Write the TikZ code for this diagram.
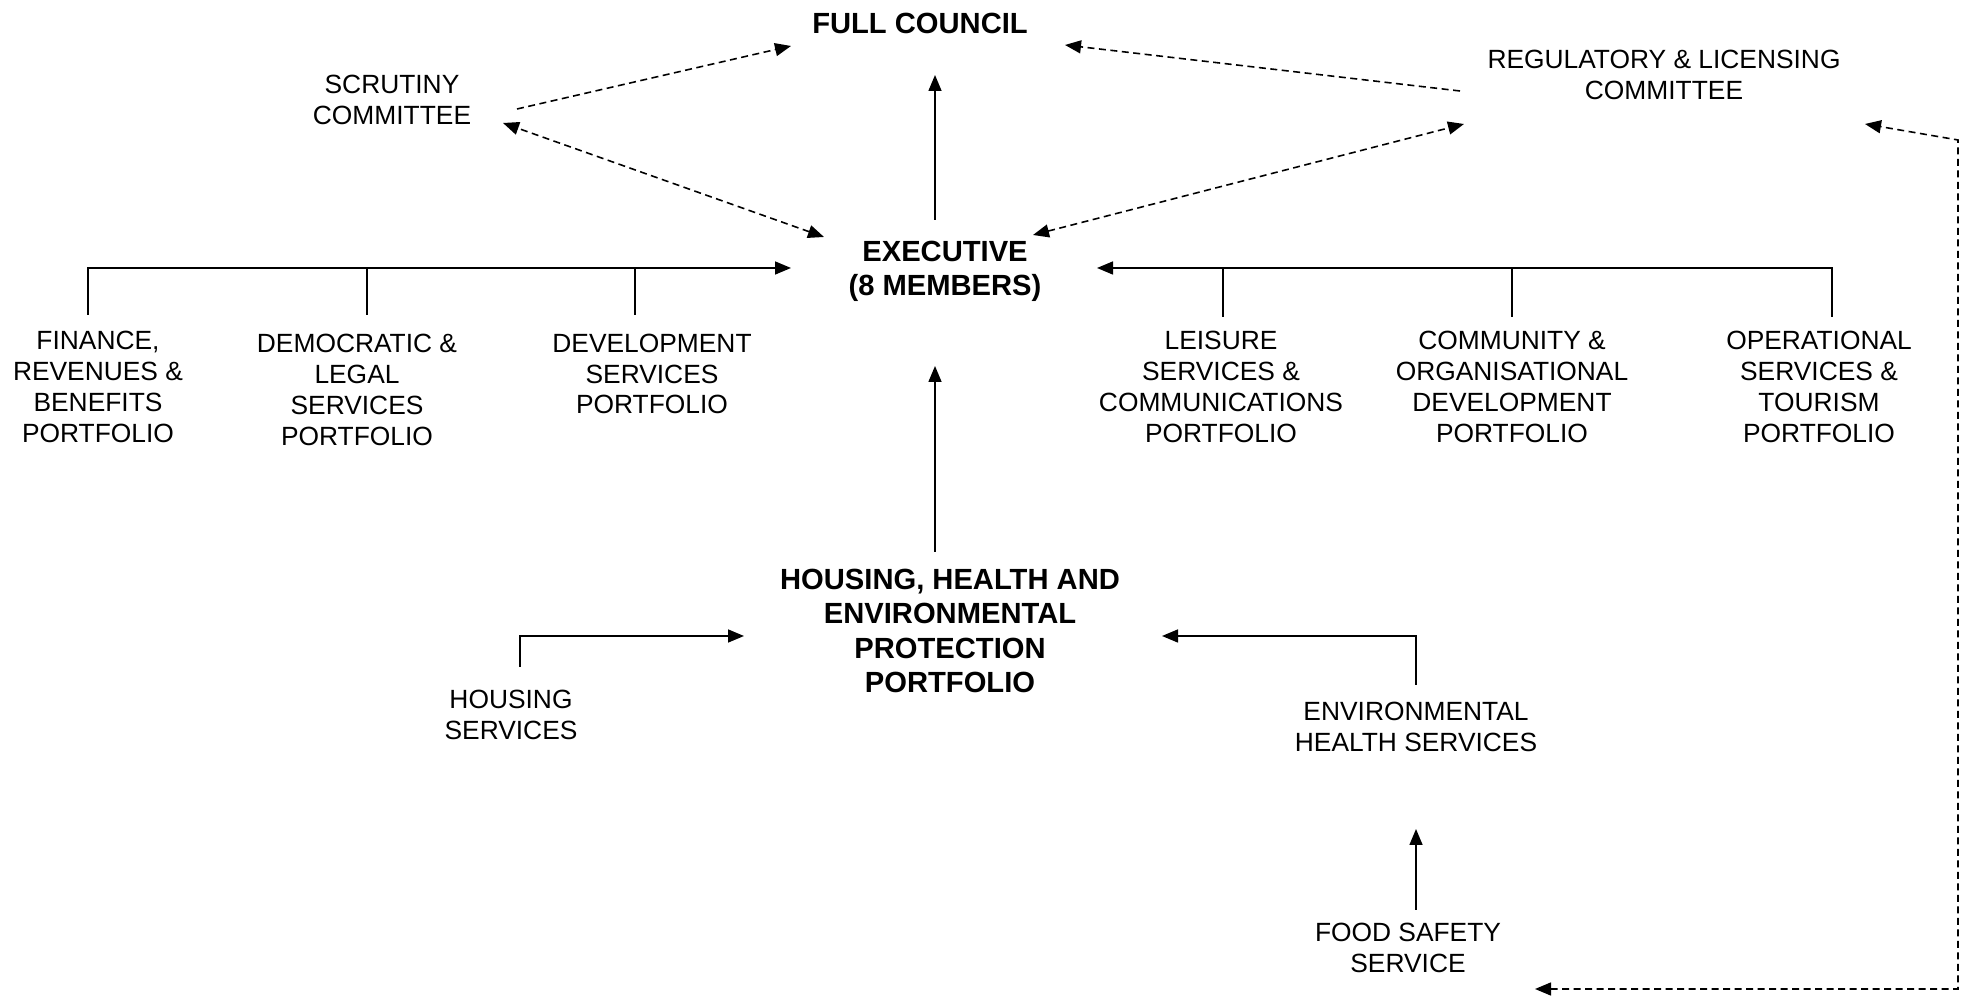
\documentclass[tikz,border=0pt]{standalone}
\usepackage{fontspec}
\setmainfont{Liberation Sans}
\usetikzlibrary{arrows.meta}

\tikzset{
	lbl/.style={font=\fontsize{7.5}{8.8}\selectfont, align=center, inner sep=0pt},
	blbl/.style={font=\fontsize{8.3}{9.7}\selectfont\bfseries, align=center, inner sep=0pt},
	dashln/.style={dash pattern=on 0.07cm off 0.045cm},
}

\begin{document}
\begin{tikzpicture}[line width=0.45pt, >={Triangle[length=0.16cm,width=0.13cm]}]
	\useasboundingbox (0,0) rectangle (19.63,-9.97);

	% committees and the council
	\node[blbl] (full) at (9.20,-0.23) {FULL COUNCIL};
	\node[lbl] (scrut) at (3.92,-1.00) {SCRUTINY\\COMMITTEE};
	\node[lbl] (reg) at (16.64,-0.75) {REGULATORY \& LICENSING\\COMMITTEE};
	\node[blbl] (exec) at (9.45,-2.71) {EXECUTIVE\\(8 MEMBERS)};

	% portfolios
	\node[lbl] (fin) at (0.98,-3.87) {FINANCE,\\REVENUES \&\\BENEFITS\\PORTFOLIO};
	\node[lbl] (dem) at (3.57,-3.90) {DEMOCRATIC \&\\LEGAL\\SERVICES\\PORTFOLIO};
	\node[lbl] (dev) at (6.52,-3.74) {DEVELOPMENT\\SERVICES\\PORTFOLIO};
	\node[lbl] (lei) at (12.21,-3.87) {LEISURE\\SERVICES \&\\COMMUNICATIONS\\PORTFOLIO};
	\node[lbl] (com) at (15.12,-3.87) {COMMUNITY \&\\ORGANISATIONAL\\DEVELOPMENT\\PORTFOLIO};
	\node[lbl] (ops) at (18.19,-3.87) {OPERATIONAL\\SERVICES \&\\TOURISM\\PORTFOLIO};
	\node[blbl] (hhep) at (9.50,-6.31) {HOUSING, HEALTH AND\\ENVIRONMENTAL\\PROTECTION\\PORTFOLIO};

	% services
	\node[lbl] (hous) at (5.11,-7.15) {HOUSING\\SERVICES};
	\node[lbl] (env) at (14.16,-7.27) {ENVIRONMENTAL\\HEALTH SERVICES};
	\node[lbl] (food) at (14.08,-9.48) {FOOD SAFETY\\SERVICE};

	% top of the chart
	\draw[->] ([shift={(-0.10,0.51)}]exec.center) -- ([shift={(0.15,-0.52)}]full.center);
	\draw[->, dashln] ([shift={(1.25,-0.09)}]scrut.center) -- ([shift={(-1.29,-0.23)}]full.center);
	\draw[<->, dashln] ([shift={(-1.21,0.34)}]exec.center) -- ([shift={(1.11,-0.23)}]scrut.center);
	\draw[->, dashln] ([shift={(-2.04,-0.16)}]reg.center) -- ([shift={(1.45,-0.22)}]full.center);
	\draw[<->, dashln] ([shift={(0.88,0.36)}]exec.center) -- ([shift={(-2.00,-0.49)}]reg.center);

	% portfolio buses
	\draw[->] ([shift={(-0.10,0.72)}]fin.center) |- ([shift={(-1.54,0.03)}]exec.center);
	\draw ([shift={(0.10,0.75)}]dem.center) -- ++(0,0.47);
	\draw ([shift={(-0.17,0.59)}]dev.center) -- ++(0,0.47);
	\draw[->] ([shift={(0.13,0.70)}]ops.center) |- ([shift={(1.52,0.03)}]exec.center);
	\draw ([shift={(0.02,0.70)}]lei.center) -- ++(0,0.49);
	\draw ([shift={(0,0.70)}]com.center) -- ++(0,0.49);

	% lower part
	\draw[->] ([shift={(-0.15,0.79)}]hhep.center) -- ([shift={(-0.10,-0.95)}]exec.center);
	\draw[->] ([shift={(0.09,0.48)}]hous.center) |- ([shift={(-2.06,-0.05)}]hhep.center);
	\draw[->] ([shift={(0,0.42)}]env.center) |- ([shift={(2.12,-0.05)}]hhep.center);
	\draw[->] ([shift={(0.08,0.38)}]food.center) -- ([shift={(0,-1.02)}]env.center);

	% food safety back to the licensing committee
	\draw[<->, dashln] ([shift={(1.27,-0.41)}]food.center) -- ++(4.23,0) -- ++(0,8.49)
		-- ([shift={(2.01,-0.49)}]reg.center);
\end{tikzpicture}
\end{document}
